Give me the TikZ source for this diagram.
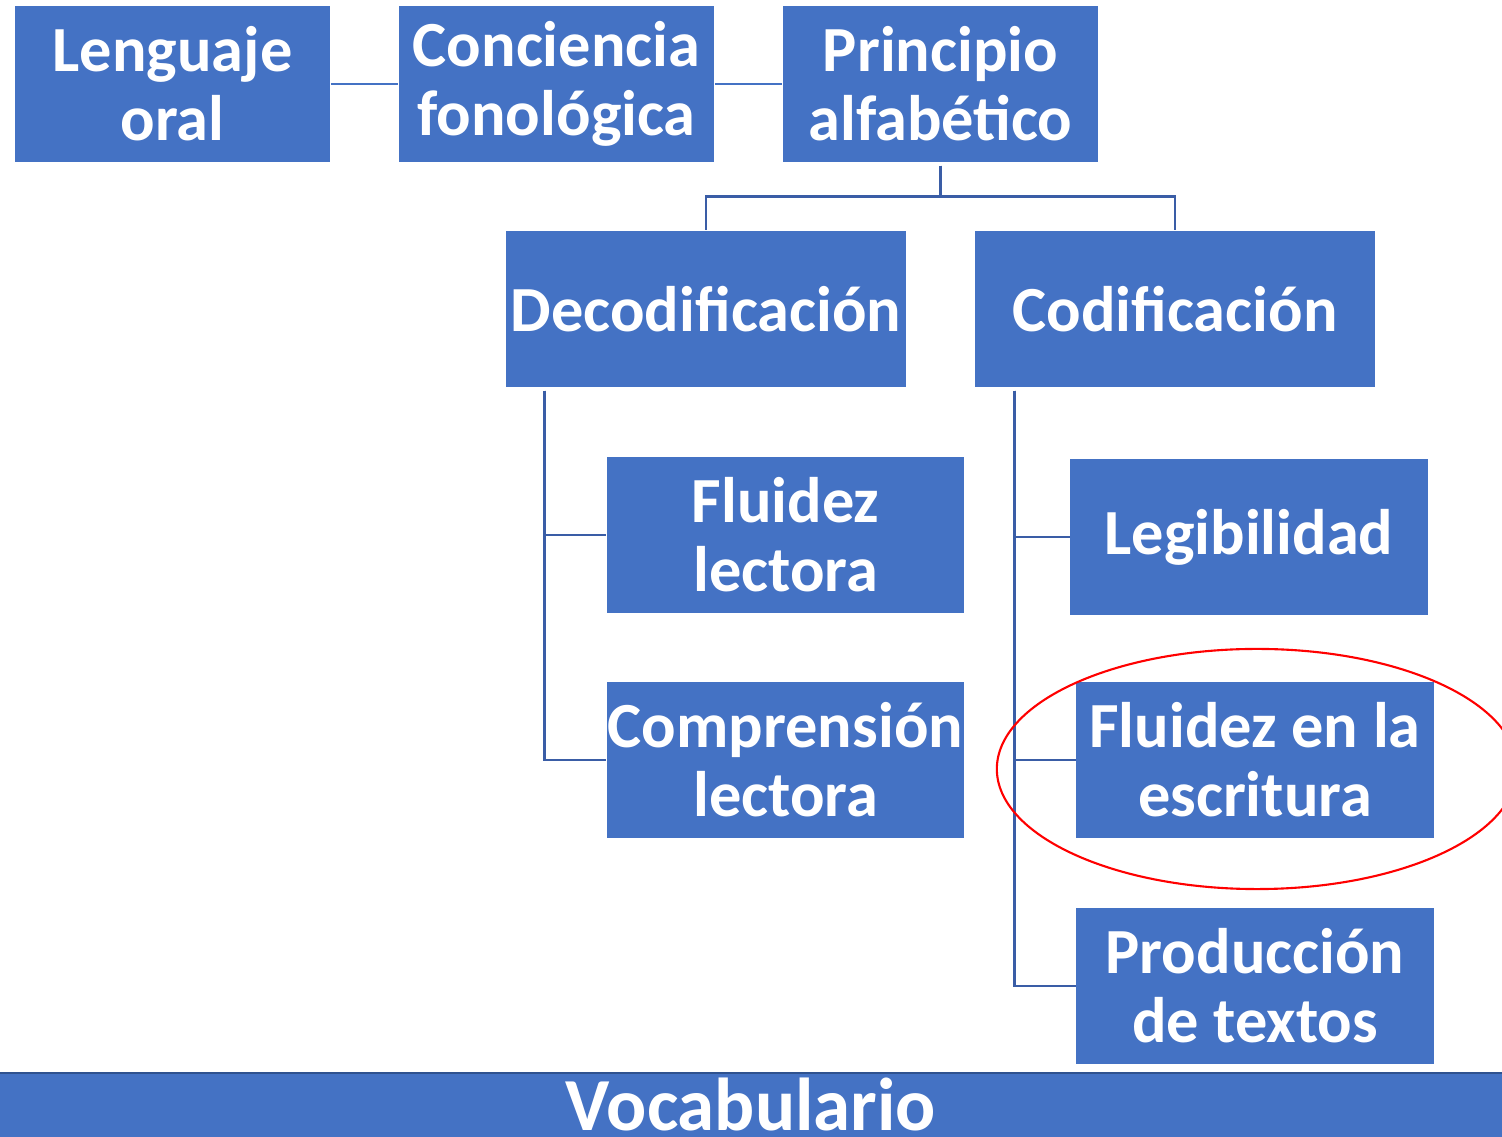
\documentclass[tikz,border=0pt]{standalone}
\usepackage{fontspec}
\setmainfont{Carlito}
\usetikzlibrary{calc}
\definecolor{azul}{HTML}{4472C4}
\definecolor{azuloscuro}{HTML}{3A5DA6}
\definecolor{borde}{HTML}{2F528F}

\begin{document}
\begin{tikzpicture}[x=0.01cm,y=-0.01cm,
    caja/.style={fill=azul,text=white,font=\fontsize{18.3}{19.6}\selectfont\bfseries,
      align=center,inner sep=0pt,minimum height=1.56cm},
    arriba/.style={caja,minimum width=3.15cm},
    medio/.style={caja,minimum width=4cm},
    hoja/.style={caja,minimum width=3.57cm},
    enlace/.style={draw=azul,line width=0.45pt},
    rama/.style={draw=azuloscuro,line width=0.75pt}]
  \useasboundingbox (0,0) rectangle (1502,1137);
  %fila de arriba
  \node[arriba] (lo) at (172.5,84) {Lenguaje\\oral};
  \node[arriba] (cf) at (556.5,84) {Conciencia\\fonológica};
  \node[arriba] (pa) at (940.5,84) {Principio\\alfabético};
  \draw[enlace] (lo.east) -- (cf.west);
  \draw[enlace] (cf.east) -- (pa.west);
  %segundo nivel
  \node[medio] (dec) at (706,309) {Decodificación};
  \node[medio] (cod) at (1175,309) {Codificación};
  \coordinate (pa_b) at ($(pa.south)+(0,3)$);
  \draw[rama] (pa_b) -- ++(0,31) -| (dec.north);
  \draw[rama] (pa_b) -- ++(0,31) -| (cod.north);
  %hojas de decodificacion
  \node[hoja] (fl) at (785.5,535) {Fluidez\\lectora};
  \node[hoja] (cl) at (785.5,760) {Comprensión\\lectora};
  \coordinate (dec_b) at ($(dec.south west)+(39,3)$);
  \draw[rama] (dec_b) |- (fl.west);
  \draw[rama] (dec_b) |- (cl.west);
  %hojas de codificacion
  \node[hoja] (leg) at (1249,537) {Legibilidad};
  \node[hoja] (fe) at (1255,760) {Fluidez en la\\escritura};
  \node[hoja] (pt) at (1255,986) {Producción\\de textos};
  \coordinate (cod_b) at ($(cod.south west)+(40,3)$);
  \draw[rama] (cod_b) |- (leg.west);
  \draw[rama] (cod_b) |- (fe.west);
  \draw[rama] (cod_b) |- (pt.west);
  %marca roja
  \draw[red,line width=0.6pt] (1257,769) ellipse [x radius=2.6cm,y radius=1.2cm];
  %barra de abajo
  \fill[azul] (0,1073) rectangle (1502,1160);
  \draw[borde,line width=0.6pt] (0,1073) -- (1502,1073);
  \node[anchor=base,text=white,font=\fontsize{21.3}{22}\selectfont\bfseries,inner sep=0pt]
    (voc) at (751,1131) {Vocabulario};
\end{tikzpicture}
\end{document}
